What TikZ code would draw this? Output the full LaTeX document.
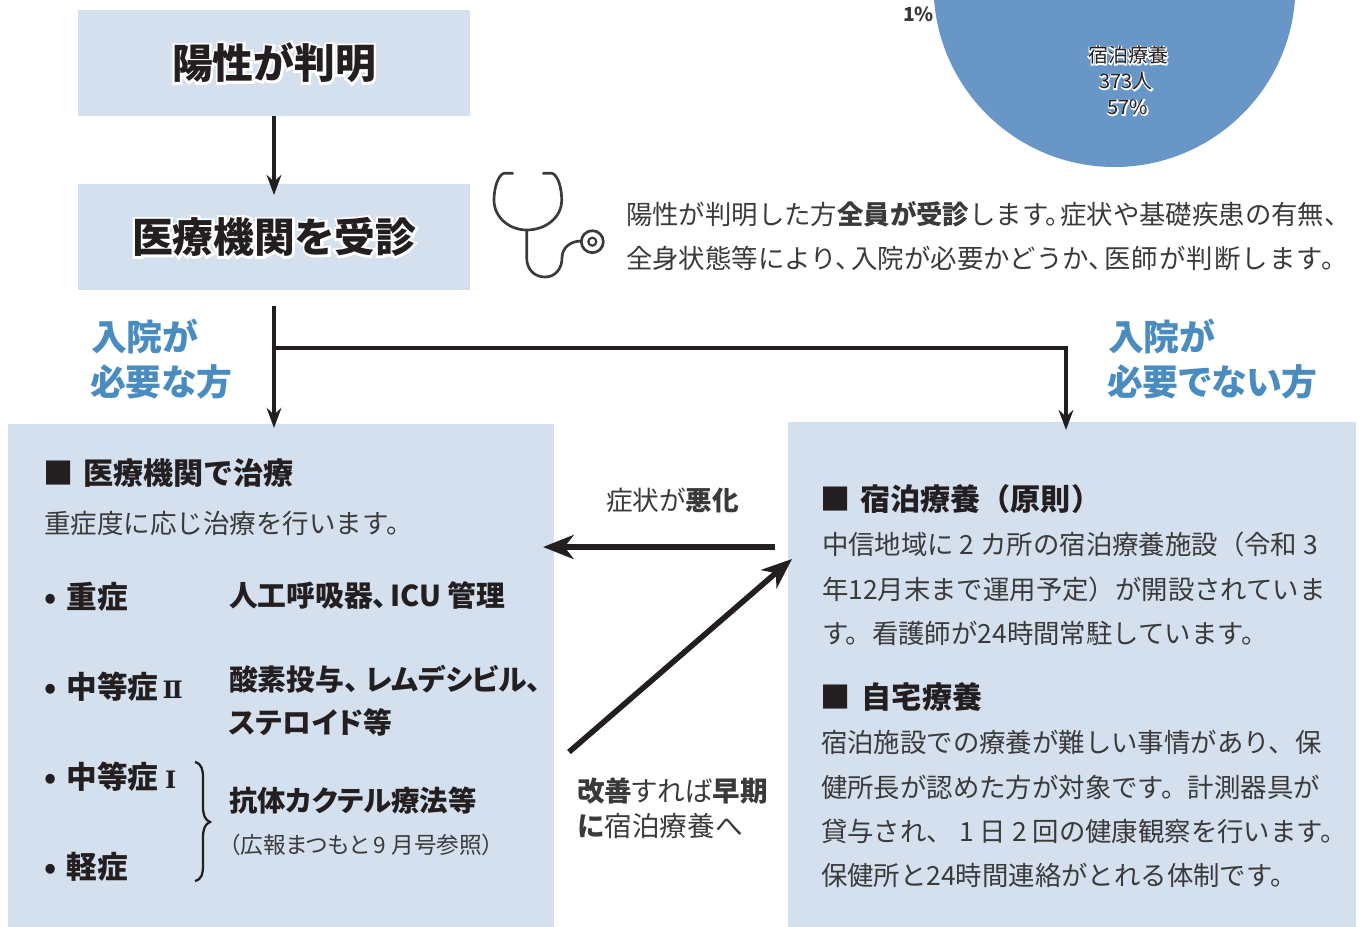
\documentclass[tikz,border=0pt]{standalone}
\usepackage{fontspec}
\setmainfont{Noto Sans CJK JP}
\newfontfamily\tight[RawFeature=+palt]{Noto Sans CJK JP}
\newfontfamily\romanfont{DejaVu Serif}
\usetikzlibrary{arrows.meta}
\definecolor{boxblue}{HTML}{D4E0EE}
\definecolor{pieblue}{HTML}{6897C7}
\definecolor{headblue}{HTML}{4A8CC0}
\definecolor{ink}{HTML}{231F20}
\definecolor{soft}{HTML}{3A3A3A}
\newcommand{\fs}[1]{\fontsize{#1}{#1}\selectfont}
\newcommand{\halo}[2]{\rlap{\special{pdf:code 2 Tr 1 1 1 RG #1 w}#2\special{pdf:code 0 Tr}}#2}
\newcommand{\romn}[1]{{\romanfont\fs{18}#1}}
\tikzset{
  x=0.75pt,y=-0.75pt,
  panel/.style={fill=boxblue,draw=none,inner sep=0,outer sep=0,anchor=north west},
  txt/.style={inner sep=0,outer sep=0,anchor=base west,text=soft},
  strong/.style={txt,text=ink,font=\bfseries},
  body/.style={txt,font=\fs{19.9}},
  bodyr/.style={txt,font=\fs{19.8}},
  bodyt/.style={txt,font=\tight\fs{20}},
  big/.style={inner sep=0,outer sep=0,text=ink,font=\tight\fs{30.6}\bfseries},
  blue/.style={txt,text=headblue,font=\tight\fs{26.9}\bfseries},
  sect/.style={strong,font=\fs{22.6}\bfseries},
  sev/.style={strong,font=\tight\fs{23}\bfseries},
  care/.style={strong,font=\tight\fs{21.6}\bfseries},
  mainline/.style={draw=ink,line width=3pt,-{Stealth[length=15pt,width=11pt,inset=5pt]}},
  fatline/.style={draw=ink,line width=4.2pt,-{Stealth[length=23pt,width=18pt,inset=7pt]}},
  piet/.style={inner sep=0,outer sep=0,anchor=base,text=ink,font=\tight\fs{15}},
  scope1/.style={draw=soft,line width=2pt,line cap=round,fill=none}
}
\begin{document}
\begin{tikzpicture}
\useasboundingbox (0,0) rectangle (1359,927);
% pie
\begin{scope}
\clip (0,0) rectangle (1359,927);
\fill[pieblue] (1114.5,-14) circle[radius=181];
\end{scope}
\node[strong,font=\fs{14.5}\bfseries,text=soft] (pct1) at (903,22) {1\%};
\node[piet] (p1) at (1128,63) {\halo{1.6}{宿泊療養}};
\node[piet] (p2) at (1126,89) {\halo{1.6}{373人}};
\node[piet] (p3) at (1128,115) {\halo{1.6}{57\%}};
% boxes
\path (78,10) node[panel,minimum width=294pt,minimum height=79.5pt] (b1) {};
\path (78,184) node[panel,minimum width=294pt,minimum height=79.5pt] (b2) {};
\path (8,424) node[panel,minimum width=409.5pt,minimum height=377.25pt] (lb) {};
\path (788,422) node[panel,minimum width=426pt,minimum height=378.75pt] (rb) {};
\node[big] (t1) at (274,63) {\halo{3.5}{陽性が判明}};
\node[big] (t2) at (274,237) {\halo{3.5}{医療機関を受診}};
% stethoscope
\draw[scope1] (512.7,173.3) -- (504,173.3) .. controls (498,175) and (494,188) .. (494,200)
  .. controls (494,218) and (510,230) .. (526.7,230)
  .. controls (545,230) and (561.7,218) .. (561.7,200)
  .. controls (561.7,188) and (558,175) .. (552,173.3) -- (543.3,173.3);
\draw[scope1] (526.7,230) -- (526.7,258) .. controls (526.7,270) and (535,277) .. (545,277)
  .. controls (556,277) and (562,268) .. (562,258) .. controls (562,248) and (570,241) .. (581.5,241);
\draw[scope1] (592.3,241.7) circle[radius=11];
\draw[scope1,line width=1.6pt] (592.3,241.7) circle[radius=4];
% description
\node[bodyr] (d1) at (626,224.5) {陽性が判明した方\textbf{全員が受診}します。\kern-0.45em 症状や基礎疾患の有無、};
\node[bodyr] (d2) at (626,268) {全身状態等により、\kern-0.4em 入院が必要かどうか、\kern-0.4em{\addfontfeature{LetterSpace=4}医師が判断します。}};
\node[blue] (h1) at (91,350) {入院が};
\node[blue] (h2) at (90,395) {必要な方};
\node[blue] (h3) at (1108,350) {入院が};
\node[blue] (h4) at (1107,395) {必要でない方};
% left panel
\node[sect] (l1) at (43.5,484) {■\kern7.1pt 医療機関で治療};
\node[body] (l2) at (44,533) {重症度に応じ治療を行います。};
\node[sev] (s1) at (44,608) {•\kern7.7pt 重症};
\node[care] (c1) at (229,606) {人工呼吸器、\kern2.5pt ICU 管理};
\node[sev] (s2) at (44,698) {•\kern7.7pt 中等症\kern3pt\romn{Ⅱ}};
\node[care] (c2) at (229,690) {酸素投与、\kern5.5pt レムデシビル、};
\node[care] (c3) at (229,733) {ステロイド等};
\node[sev] (s3) at (44,788) {•\kern7.7pt 中等症\kern5pt\romn{Ⅰ}};
\node[sev] (s4) at (44,878) {•\kern7.7pt 軽症};
\node[care,font=\tight\fs{21.3}\bfseries] (c4) at (229,811) {抗体カクテル療法等};
\node[txt,font=\tight\fs{17}] (c5) at (229,853) {（広報まつもと 9 月号参照）};
\draw[draw=ink,line width=1.7pt] (195,762) .. controls (202,764) and (203,770) .. (203,778) -- (203,806)
  .. controls (203,815) and (205,820) .. (210,822) .. controls (205,824) and (203,829) .. (203,838) -- (203,865)
  .. controls (203,874) and (202,879) .. (195,881);
% middle
\node[bodyt] (m1) at (606,510) {症状が\textbf{悪化}};
\node[bodyt,font=\tight\fs{20.7}] (m2) at (577,801) {\textbf{改善}すれば\textbf{早期}};
\node[bodyt,font=\tight\fs{20.7}] (m3) at (578,836) {\textbf{に}宿泊療養へ};
% right panel
\node[sect] (r1) at (820.5,510) {■\kern7.1pt 宿泊療養（原則）};
\node[bodyr] (r2) at (822,554) {中信地域に 2 カ所の宿泊療養施設（令和 3};
\node[bodyr] (r3) at (822,599) {年12月末まで運用予定）が開設されていま};
\node[bodyr] (r4) at (822,643) {す。看護師が24時間常駐しています。};
\node[sect] (r5) at (820.5,708) {■\kern8.4pt 自宅療養};
\node[bodyr] (r6) at (821,752) {宿泊施設での療養が難しい事情があり、保};
\node[bodyr] (r7) at (821,797) {健所長が認めた方が対象です。計測器具が};
\node[bodyr] (r8) at (821,841) {貸与され、 1 日 2 回の健康観察を行います。};
\node[bodyr] (r9) at (821,885) {保健所と24時間連絡がとれる体制です。};
% connectors
\coordinate (fork) at (274,348);
\coordinate (rt) at (1066,422);
\coordinate (wStart) at (775,547);
\coordinate (wEnd) at (543,547);
\coordinate (iStart) at (569,752);
\coordinate (iEnd) at (792,559);
\draw[mainline,shorten >=-8.25pt] (b1.south) -- (b2.north);
\draw[mainline,shorten <=12pt,shorten >=-3pt] (b2.south) -- (lb.north -| b2.south);
\draw[mainline,shorten >=-6pt] (fork) -| (rt);
\draw[fatline] (wStart) -- (wEnd);
\draw[fatline] (iStart) -- (iEnd);
\end{tikzpicture}
\end{document}
